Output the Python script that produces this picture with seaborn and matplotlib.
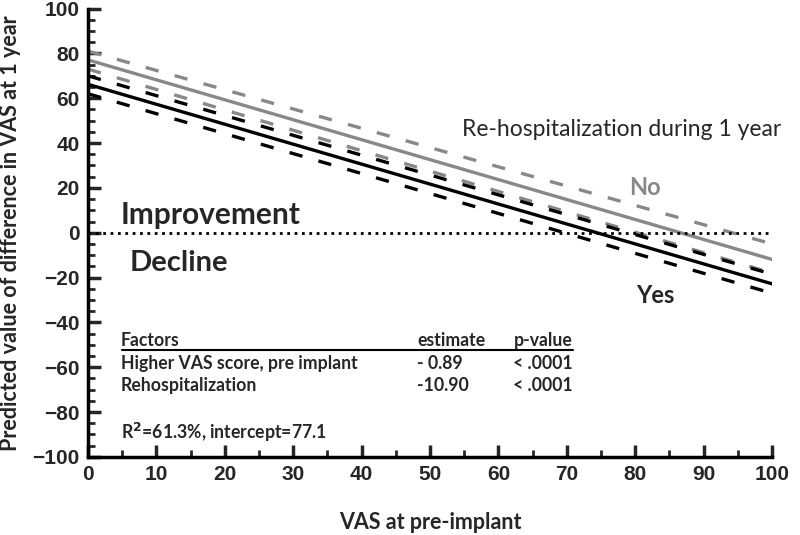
import numpy as np
import pandas as pd
import seaborn as sns
import matplotlib.pyplot as plt

# Datos (extremos de cada recta)
vas_pre = [0, 100]
no_fit = [77.1, -11.9]
no_upper = [81, -5]
no_lower = [73, -18]
yes_fit = [66.2, -22.8]
yes_upper = [70, -18.5]
yes_lower = [62, -27]

factors = ['Higher VAS score, pre implant', 'Rehospitalization']
estimates = ['- 0.89', '-10.90']
pvalues = ['< .0001', '< .0001']

series = {
    'No': no_fit, 'No upper': no_upper, 'No lower': no_lower,
    'Yes': yes_fit, 'Yes upper': yes_upper, 'Yes lower': yes_lower,
}
df = pd.DataFrame([(name, x, y) for name, ys in series.items()
                   for x, y in zip(vas_pre, ys)],
                  columns=['serie', 'vas', 'pred'])

sns.set_style('white')
plt.rcParams['font.family'] = ['Lato', 'DejaVu Sans']

fig = plt.figure(figsize=(8, 5.35), dpi=100)
ax = fig.add_axes([0.11, 0.146, 0.855, 0.838])

grey = '#888888'
estilos = {
    'No': (grey, '-'), 'No upper': (grey, '--'), 'No lower': (grey, '--'),
    'Yes': ('black', '-'), 'Yes upper': ('black', '--'), 'Yes lower': ('black', '--'),
}
for name, (color, ls) in estilos.items():
    data = df[df['serie'] == name]
    sns.lineplot(ax=ax, data=data, x='vas', y='pred', color=color,
                 linewidth=2.4, legend=False)
    if ls == '--':
        ax.lines[-1].set_dashes((4, 5))

ax.axhline(0, color='black', linestyle=':', linewidth=2)

ax.set_xlim(0, 100)
ax.set_ylim(-100, 100)
ax.set_xticks(np.arange(0, 101, 10))
ax.set_xticks(np.arange(0, 101, 5), minor=True)
ax.set_yticks(np.arange(-100, 101, 20))
ax.set_yticks(np.arange(-100, 101, 5), minor=True)
ax.set_yticklabels([str(v).replace('-', '\u2212') for v in range(-100, 101, 20)])

for s in ['top', 'right']:
    ax.spines[s].set_visible(False)
for s in ['left', 'bottom']:
    ax.spines[s].set_linewidth(2.5)
    ax.spines[s].set_color('black')

ax.tick_params(which='major', direction='in', length=9, width=2.5,
               labelsize=15, pad=6)
ax.tick_params(which='minor', direction='in', length=5, width=2)
ax.tick_params(left=True, bottom=True, which='both')
for lab in ax.get_xticklabels() + ax.get_yticklabels():
    lab.set_family('Liberation Sans')
    lab.set_fontweight('bold')

ax.set_xlabel('VAS at pre-implant', fontsize=15.5, fontweight='bold', labelpad=20)
ax.set_ylabel('Predicted value of difference in VAS at 1 year', fontsize=15.5,
              fontweight='bold', labelpad=8)

# Textos
ax.text(54.7, 46, 'Re-hospitalization during 1 year', fontsize=16.5, va='center')
ax.text(81.4, 20, 'No', fontsize=17, fontweight='bold', color=grey,
        ha='center', va='center')
ax.text(82.9, -28, 'Yes', fontsize=17, fontweight='bold', ha='center', va='center')
ax.text(4.7, 8, 'Improvement', fontsize=21.5, fontweight='bold', va='center')
ax.text(6.1, -13.7, 'Decline', fontsize=21, fontweight='bold', va='center')

fs = 12.7
ax.text(4.8, -48, 'Factors', fontsize=fs, fontweight='bold', va='center')
ax.text(48.1, -48, 'estimate', fontsize=fs, fontweight='bold', va='center')
ax.text(62.2, -48, 'p-value', fontsize=fs, fontweight='bold', va='center')
ax.plot([4.9, 70.9], [-52.3, -52.3], color='black', linewidth=1.5)
for i, (f, e, p) in enumerate(zip(factors, estimates, pvalues)):
    y = -58.4 - 9.7 * i
    ax.text(4.8, y, f, fontsize=fs, fontweight='bold', va='center')
    ax.text(48.1, y, e, fontsize=fs, fontweight='bold', va='center')
    ax.text(62.2, y, p, fontsize=fs, fontweight='bold', va='center')
ax.text(4.8, -89, 'R$^\\mathbf{2}$=61.3%, intercept=77.1', fontsize=fs,
        fontweight='bold', va='center')

fig.savefig('out.png', dpi=100)
